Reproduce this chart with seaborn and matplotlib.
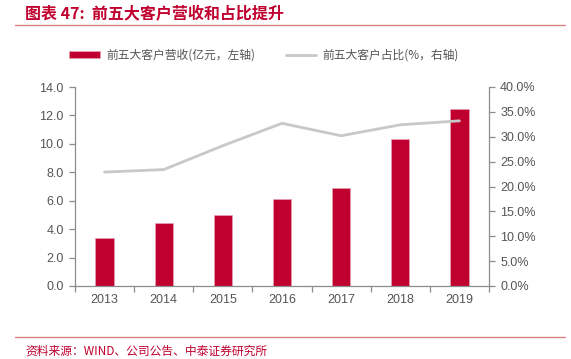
import pandas as pd
import numpy as np
import matplotlib.pyplot as plt
import seaborn as sns
from matplotlib.ticker import FuncFormatter, FixedLocator

sns.set_theme(style='white')
plt.rcParams['font.family'] = ['Noto Sans CJK SC', 'DejaVu Sans']

# data
years = ['2013', '2014', '2015', '2016', '2017', '2018', '2019']
revenue = [3.40, 4.41, 4.97, 6.12, 6.87, 10.34, 12.43]      # 亿元, left axis
share = [22.9, 23.4, 28.2, 32.7, 30.2, 32.4, 33.2]           # %, right axis

red = '#C0002F'
grey_line = '#C8C8C8'
axis_grey = '#8C8C8C'
text_grey = '#555555'

df = pd.DataFrame({'year': years, 'revenue': revenue, 'share': share})

fig = plt.figure(figsize=(5.71, 3.59), dpi=100)
ax = fig.add_axes([75 / 571, 1 - 286 / 359, (489 - 75) / 571, (286 - 87) / 359])

sns.barplot(data=df, x='year', y='revenue', color=red, width=0.31,
            saturation=1, edgecolor='#E8A0B0', linewidth=0.5, ax=ax,
            label='前五大客户营收(亿元，左轴)')
ax.set_xlim(-0.5, len(years) - 0.5)
ax.set_ylim(0, 14)
ax.set_yticks(np.arange(0, 14.1, 2))
ax.yaxis.set_major_formatter(FuncFormatter(lambda v, p: f'{v:.1f}'))

ax2 = ax.twinx()
sns.lineplot(x=np.arange(len(years)), y=df['share'], color=grey_line, linewidth=2,
             ax=ax2, label='前五大客户占比(%，右轴)')
ax2.set_ylim(0, 40)
ax2.set_yticks(np.arange(0, 40.1, 5))
ax2.yaxis.set_major_formatter(FuncFormatter(lambda v, p: f'{v:.1f}%'))
ax2.set_ylabel('')
ax.set_xlabel('')
ax.set_ylabel('')

for a in (ax, ax2):
    for s in a.spines.values():
        s.set_visible(False)
    a.grid(False)
ax.spines['left'].set_visible(True)
ax.spines['bottom'].set_visible(True)
ax2.spines['right'].set_visible(True)
for s in (ax.spines['left'], ax.spines['bottom'], ax2.spines['right']):
    s.set_color(axis_grey)
    s.set_linewidth(0.9)

ax.tick_params(axis='y', direction='out', length=4, width=0.9, color=axis_grey,
               labelcolor=text_grey, labelsize=9, left=True, pad=4)
ax2.tick_params(axis='y', direction='out', length=4, width=0.9, color=axis_grey,
                labelcolor=text_grey, labelsize=9, right=True, pad=4)
ax.tick_params(axis='x', which='major', length=0, labelcolor=text_grey,
               labelsize=9, pad=6)
ax.xaxis.set_minor_locator(FixedLocator(np.arange(-0.5, len(years), 1.0)))
ax.tick_params(axis='x', which='minor', direction='out', length=4, width=0.9,
               color=axis_grey, bottom=True)
for lab in ax.get_xticklabels() + ax.get_yticklabels() + ax2.get_yticklabels():
    lab.set_family('Liberation Sans')

if ax2.get_legend():
    ax2.get_legend().remove()
if ax.get_legend():
    ax.get_legend().remove()
h1, l1 = ax.get_legend_handles_labels()
h2, l2 = ax2.get_legend_handles_labels()
fig.legend(h1 + h2, l1 + l2, ncol=2, loc='center', bbox_to_anchor=(264 / 571, 1 - 55 / 359),
           frameon=False, fontsize=8.5, labelcolor=text_grey, handlelength=2.6,
           handleheight=0.6, columnspacing=2.6, handletextpad=0.5)

fig.text(25 / 571, 1 - 14 / 359, '图表 47:  前五大客户营收和占比提升', color=red,
         fontsize=11.5, fontweight='bold', style='italic', va='center', ha='left')
fig.add_artist(plt.Line2D([15 / 571, 565 / 571], [1 - 25 / 359] * 2, color='#D98080', linewidth=1))
fig.add_artist(plt.Line2D([15 / 571, 565 / 571], [1 - 337 / 359] * 2, color='#D98080', linewidth=1))
fig.text(25 / 571, 1 - 351 / 359, '资料来源：WIND、公司公告、中泰证券研究所', color=red,
         fontsize=8.5, va='center', ha='left')

fig.savefig('out.png', dpi=100)
